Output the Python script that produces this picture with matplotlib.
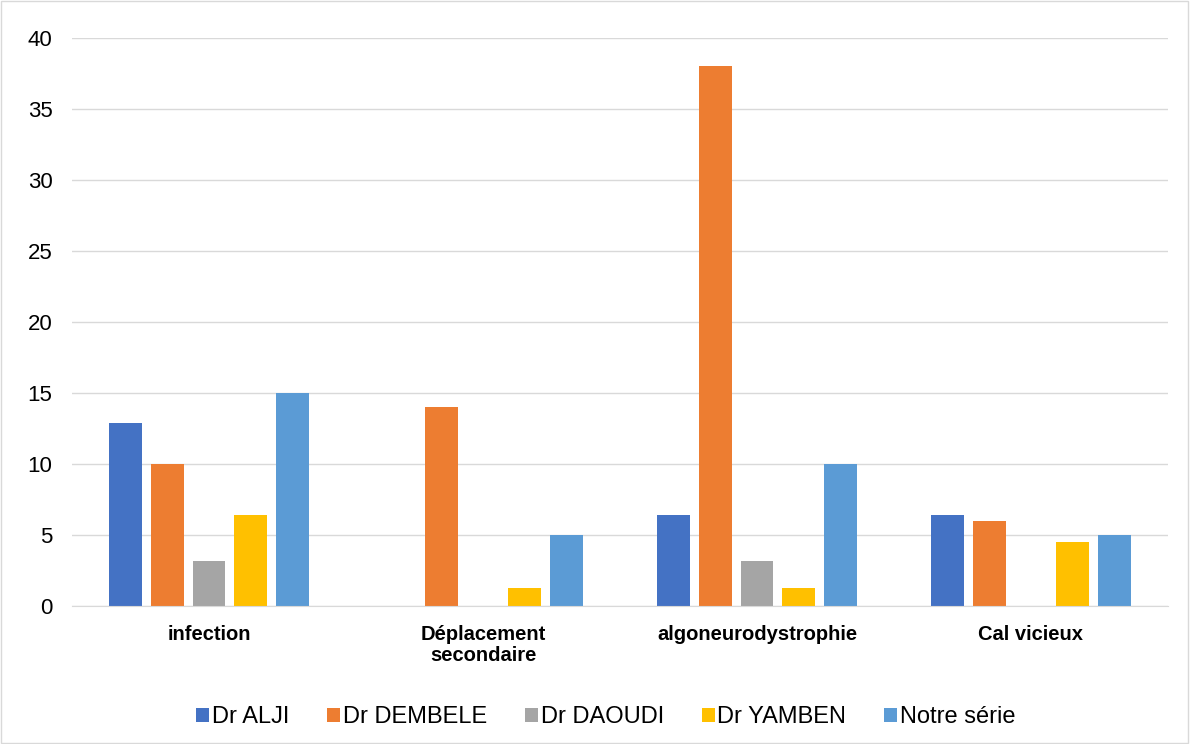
import numpy as np
import matplotlib
matplotlib.use("Agg")
import matplotlib.pyplot as plt
from matplotlib.patches import Rectangle

plt.rcParams["font.family"] = ["Liberation Sans", "DejaVu Sans"]

categories = ["infection", "Déplacement\nsecondaire", "algoneurodystrophie", "Cal vicieux"]
series_names = ["Dr ALJI", "Dr DEMBELE", "Dr DAOUDI", "Dr YAMBEN", "Notre série"]
alji = [12.9, 0, 6.4, 6.4]
dembele = [10, 14, 38, 6]
daoudi = [3.2, 0, 3.2, 0]
yamben = [6.4, 1.3, 1.3, 4.5]
notre = [15, 5, 10, 5]
colors = ["#4472c4", "#ed7d31", "#a5a5a5", "#ffc000", "#5b9bd5"]

fig = plt.figure(figsize=(11.9, 7.44), dpi=100)
ax = fig.add_axes([0.0605, 0.1855, 0.921, 0.7635])

x = np.arange(len(categories))
step = 0.153
width = 0.12
for k, (vals, name) in enumerate(zip([alji, dembele, daoudi, yamben, notre], series_names)):
    ax.bar(x + (k - 2) * step, vals, width=width, color=colors[k], label=name, zorder=3)

ax.set_xlim(-0.5, len(categories) - 0.5)
ax.set_ylim(0, 40)
ax.set_yticks(range(0, 41, 5))
ax.set_xticks(x, categories, fontsize=14.5, fontweight="bold", linespacing=1.1)
ax.tick_params(axis="y", labelsize=16, length=0, pad=14)
ax.tick_params(axis="x", length=0, pad=14)
ax.grid(axis="y", color="#d9d9d9", lw=1, zorder=0)
for s in ["top", "right", "left"]:
    ax.spines[s].set_visible(False)
ax.spines["bottom"].set_color("#d9d9d9")
ax.spines["bottom"].set_zorder(4)

fig.legend(loc="center", bbox_to_anchor=(0.509, 0.036), ncol=5, frameon=False,
           fontsize=17, handlelength=0.55, handleheight=0.55, handletextpad=0.12,
           columnspacing=1.6)

fig.patches.append(Rectangle((0.001, 0.001), 0.997, 0.997, transform=fig.transFigure,
                             fill=False, edgecolor="#d9d9d9", lw=1))

fig.savefig("out.png", dpi=100)
